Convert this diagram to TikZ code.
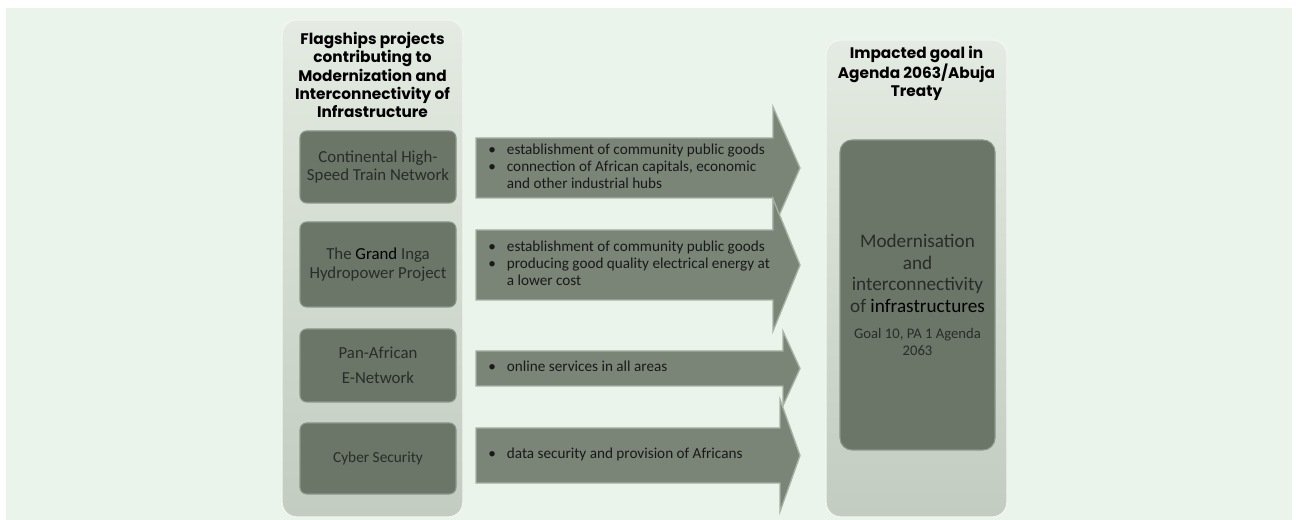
\documentclass[tikz,border=0pt]{standalone}
\usepackage{fontspec}
\setmainfont{Carlito}
\newfontfamily\headfont{Poppins}
\usetikzlibrary{positioning,shapes}

\definecolor{bggreen}{HTML}{EBF4EA}
\definecolor{paneltop}{HTML}{E4EBE2}
\definecolor{panelbot}{HTML}{C2CCC0}
\definecolor{boxfill}{HTML}{6B7568}
\definecolor{boxedge}{HTML}{8C968A}
\definecolor{arrowfill}{HTML}{7A8577}
\definecolor{arrowedge}{HTML}{A6B1A3}
\definecolor{boxtext}{HTML}{282D27}

% body top, body bottom, head half height, head start (px)
\newcommand\goalarrow[4]{%
  \path[arrowbody] (476,#1) -- (#4,#1) -- (#4,{(#1+#2)/2-#3}) -- (800,{(#1+#2)/2})
    -- (#4,{(#1+#2)/2+#3}) -- (#4,#2) -- (476,#2) -- cycle;}

\begin{document}
\begin{tikzpicture}[
  x=0.75pt,y=-0.75pt,
  panel/.style={draw=white!80!panelbot,line width=1pt,rounded corners=11pt,
    top color=paneltop,bottom color=panelbot,minimum width=135.75pt},
  heading/.style={align=center,inner sep=0pt,
    font=\headfont\bfseries\fontsize{11.5}{13.8}\selectfont},
  projbox/.style={draw=boxedge,line width=0.8pt,fill=boxfill,rounded corners=5pt,
    minimum width=117pt,text=boxtext,align=center,
    font=\fontsize{12.6}{14.2}\selectfont},
  arrowbody/.style={draw=arrowedge,line width=1pt,fill=arrowfill},
  effect/.style={anchor=west,inner sep=0pt,text=black!90,
    font=\fontsize{11.4}{13.1}\selectfont}
]
\useasboundingbox (0,0) rectangle (1297,520);
\fill[bggreen] (6,8) rectangle (1292,520);

% left column
\node[panel,minimum height=372.75pt] (flagships) at (372.5,268.5) {};
\node[heading] (flagtitle) at (372.5,75) {Flagships projects\\contributing to\\Modernization and\\Interconnectivity of\\Infrastructure};
\node[projbox,minimum height=54pt] (train) at (378,167) {Continental High-\\Speed Train Network};
\node[projbox,minimum height=63.75pt] (inga) at (378,264.5) {The \textcolor{black}{Grand} Inga\\Hydropower Project};
\node[projbox,minimum height=54.75pt,font=\fontsize{12.6}{18.8}\selectfont] (enet) at (378,365.5) {Pan-African\\E-Network};
\node[projbox,minimum height=53.25pt,font=\fontsize{11.5}{12}\selectfont] (cyber) at (378,458.5) {Cyber Security};

% arrows
\goalarrow{138}{198}{61}{773}
\node[effect] (trainfx) at (488,168) {\begin{tabular}{@{}p{14pt}@{}l@{}}
\textbullet & establishment of community public goods\\
\textbullet & connection of African capitals, economic\\
 & and other industrial hubs
\end{tabular}};
\goalarrow{230}{300}{66}{773}
\node[effect] (ingafx) at (488,265) {\begin{tabular}{@{}p{14pt}@{}l@{}}
\textbullet & establishment of community public goods\\
\textbullet & producing good quality electrical energy at\\
 & a lower cost
\end{tabular}};
\goalarrow{351}{386}{37}{783}
\node[effect] (enetfx) at (488,368.5) {\begin{tabular}{@{}p{14pt}@{}l@{}}
\textbullet & online services in all areas
\end{tabular}};
\goalarrow{428}{483}{56}{780}
\node[effect] (cyberfx) at (488,455.5) {\begin{tabular}{@{}p{14pt}@{}l@{}}
\textbullet & data security and provision of Africans
\end{tabular}};

% right column
\node[panel,minimum height=357.75pt] (impact) at (916.5,278.5) {};
\node[heading] (impacttitle) at (916.5,73.5) {Impacted goal in\\Agenda 2063/Abuja\\Treaty};
\node[projbox,minimum width=116.25pt,minimum height=232.5pt,rounded corners=9pt,
  font=\fontsize{14.4}{16.1}\selectfont] (goal) at (917.5,295)
  {Modernisation\\and\\interconnectivity\\of \textcolor{black}{infrastructures}\\[4pt]
   \fontsize{11}{12}\selectfont Goal 10, PA 1 Agenda\\[-3.75pt]\fontsize{11}{12}\selectfont 2063};
\end{tikzpicture}
\end{document}
